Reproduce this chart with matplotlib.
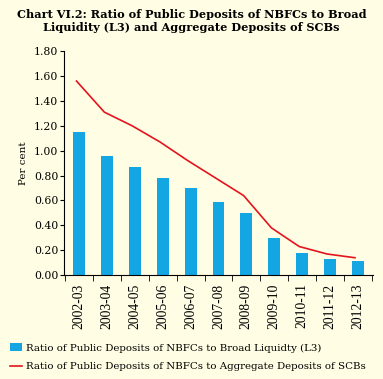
import matplotlib
matplotlib.use('Agg')
import matplotlib.pyplot as plt
import numpy as np

years = ['2002-03', '2003-04', '2004-05', '2005-06', '2006-07', '2007-08',
         '2008-09', '2009-10', '2010-11', '2011-12', '2012-13']
ratio_l3 = [1.15, 0.96, 0.87, 0.78, 0.70, 0.59, 0.50, 0.30, 0.18, 0.13, 0.11]
ratio_scb = [1.56, 1.31, 1.20, 1.07, 0.92, 0.78, 0.64, 0.38, 0.23, 0.17, 0.14]

bg = '#FFFDE3'
plt.rcParams['font.family'] = ['DejaVu Serif']

fig = plt.figure(figsize=(3.83, 3.79), dpi=100, facecolor=bg)
ax = fig.add_axes([0.167, 0.274, 0.807, 0.591])
ax.set_facecolor(bg)

x = np.arange(len(years))
bars = ax.bar(x, ratio_l3, width=0.42, color='#14A5E3',
              label='Ratio of Public Deposits of NBFCs to Broad Liquidty (L3)')
line, = ax.plot(x - 0.1, ratio_scb, color='#E3141E', lw=1.2,
                label='Ratio of Public Deposits of NBFCs to Aggregate Deposits of SCBs')

ax.set_xlim(-0.55, len(years) - 0.45)
ax.set_ylim(0, 1.8)
ax.set_yticks(np.arange(0, 1.81, 0.2))
ax.set_yticklabels(['%.2f' % v for v in np.arange(0, 1.81, 0.2)], fontsize=7.8)
ax.set_xticks(x)
ax.set_xticklabels(years, rotation=90, fontsize=9.8, family='Liberation Serif')
ax.set_xticks(np.arange(-0.5, len(years), 1), minor=True)
ax.tick_params(axis='x', which='major', length=0, pad=6)
ax.tick_params(axis='x', which='minor', length=4)
ax.tick_params(axis='y', length=3, pad=1)
ax.spines['top'].set_visible(False)
ax.spines['right'].set_visible(False)
ax.set_ylabel('Per cent', fontsize=7.5, labelpad=4)

fig.text(0.5, 0.975, 'Chart VI.2: Ratio of Public Deposits of NBFCs to Broad\nLiquidity (L3) and Aggregate Deposits of SCBs',
         ha='center', va='top', fontsize=8.1, fontweight='bold', linespacing=1.2)

fig.legend(handles=[bars, line], loc='upper left', bbox_to_anchor=(0.015, 0.105),
           frameon=False, fontsize=7.4, handlelength=1.2, handletextpad=0.4,
           labelspacing=0.95, borderaxespad=0)

fig.savefig('out.png', dpi=100, facecolor=bg)
